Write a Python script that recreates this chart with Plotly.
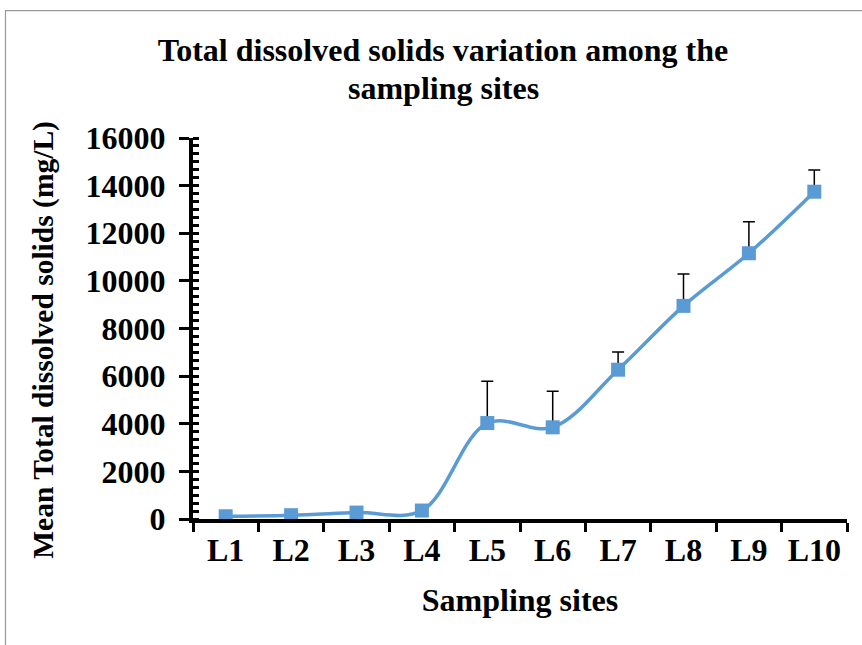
import plotly.graph_objects as go

sites = ["L1", "L2", "L3", "L4", "L5", "L6", "L7", "L8", "L9", "L10"]
mean_tds = [115, 160, 270, 355, 4030, 3850, 6270, 8950, 11160, 13745]
err_plus = [30, 40, 90, 110, 1750, 1510, 740, 1340, 1325, 910]
y_ticks = [0, 2000, 4000, 6000, 8000, 10000, 12000, 14000, 16000]

FONT = "Liberation Serif, Times New Roman, serif"
BLUE = "#5B9BD5"

L, R, T, B = 193, 15, 138, 125.5
PW, PH = 862 - L - R, 645 - T - B

fig = go.Figure()
fig.add_trace(go.Scatter(
    x=sites, y=mean_tds,
    mode="lines+markers",
    line=dict(color=BLUE, width=3.5, shape="spline", smoothing=1),
    marker=dict(symbol="square", size=14, color=BLUE),
    error_y=dict(type="data", array=err_plus, symmetric=False,
                 arrayminus=[0] * len(err_plus),
                 color="black", thickness=1.5, width=6),
    showlegend=False,
))

fig.update_layout(
    width=862, height=645,
    margin=dict(l=L, r=R, t=T, b=B),
    paper_bgcolor="white", plot_bgcolor="white",
    font=dict(family=FONT, color="black"),
    title=dict(text="<b>Total dissolved solids variation among the</b>",
               x=443 / 862, xanchor="center", y=1 - 39 / 645, yanchor="top",
               font=dict(family=FONT, size=32, color="black")),
    xaxis=dict(
        type="category", range=[-0.5, 9.5],
        tickvals=sites, ticktext=[f"<b>{s}</b>" for s in sites],
        showline=True, linecolor="black", linewidth=4,
        ticks="outside", ticklen=9, tickwidth=3, tickcolor="black",
        tickson="boundaries",
        showgrid=False, zeroline=False,
        tickfont=dict(family=FONT, size=32, color="black"),
        title=dict(text="<b>Sampling sites</b>", standoff=22,
                   font=dict(family=FONT, size=32, color="black")),
    ),
    yaxis=dict(
        range=[0, 16000], tickvals=y_ticks,
        ticktext=[f"<b>{v}</b>" for v in y_ticks],
        showline=True, linecolor="black", linewidth=4,
        ticks="outside", ticklen=10, tickwidth=3, tickcolor="black",
        ticklabelstandoff=7,
        minor=dict(ticks="inside", dtick=2000 / 6, tick0=0, ticklen=6,
                   tickwidth=3, tickcolor="black", showgrid=False),
        showgrid=False, zeroline=False,
        tickfont=dict(family=FONT, size=32, color="black"),
    ),
    yaxis2=dict(
        overlaying="y", side="left", range=[0, 16000], tickvals=y_ticks,
        showticklabels=False, showline=False, showgrid=False, zeroline=False,
        ticks="inside", ticklen=7, tickwidth=3, tickcolor="black",
    ),
    annotations=[
        dict(text="<b>sampling sites</b>",
             xref="paper", yref="paper",
             x=(443 - L) / PW, y=(645 - B - 88) / PH,
             xanchor="center", yanchor="middle", showarrow=False,
             font=dict(family=FONT, size=32, color="black")),
        dict(text="<b>Mean Total dissolved solids (mg/L)</b>",
             xref="paper", yref="paper",
             x=(44 - L) / PW, y=(645 - B - 340) / PH,
             xanchor="center", yanchor="middle", textangle=-90,
             showarrow=False,
             font=dict(family=FONT, size=29.5, color="black")),
    ],
    shapes=[dict(type="rect", xref="paper", yref="paper",
                 x0=(5.5 - L) / PW, x1=1.06, y0=-0.45, y1=(645 - B - 10.5) / PH,
                 line=dict(color="#999999", width=1.2), fillcolor="rgba(0,0,0,0)",
                 layer="below")],
)

fig.write_html("out.html", config={"displayModeBar": False},
               post_script="document.body.style.margin='0';")
